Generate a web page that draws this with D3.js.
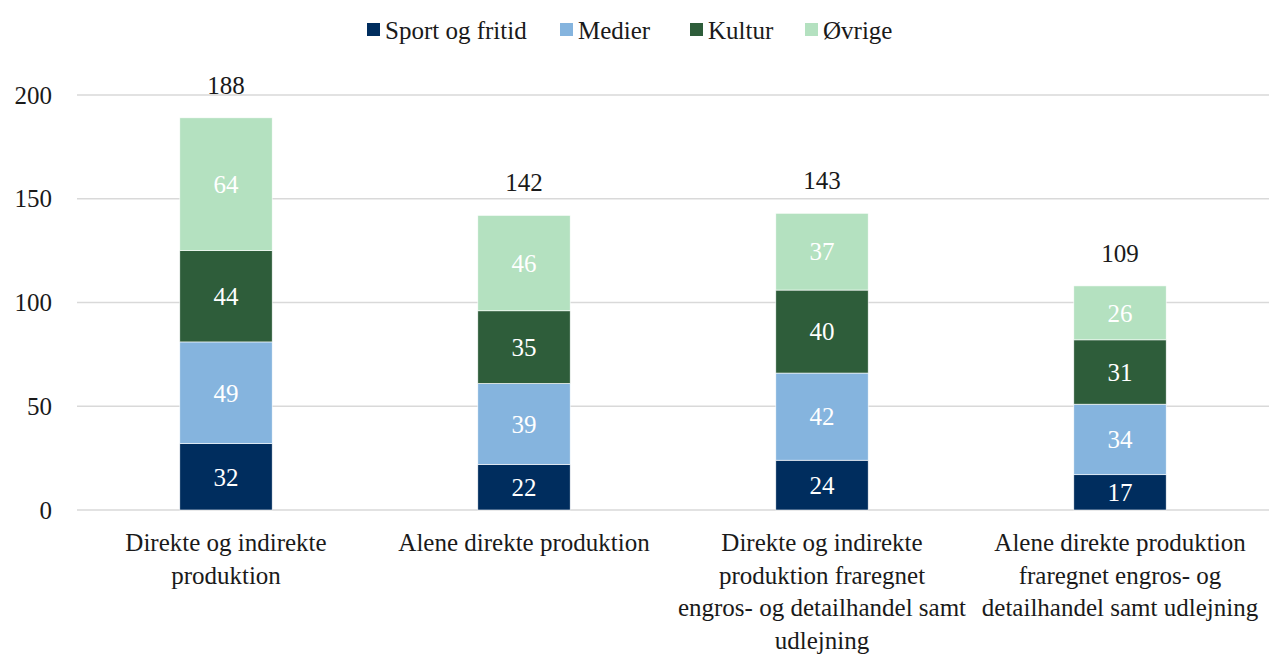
<!DOCTYPE html>
<html>
<head>
<meta charset="utf-8">
<script src="https://cdn.jsdelivr.net/npm/d3@7"></script>
<style>
  body { margin: 0; background: #ffffff; }
</style>
</head>
<body>
<script>
var WIDTH = 1269, HEIGHT = 655;
var FONT = "Liberation Serif";
var TEXT_COLOR = "#1a1a1a";

// categories (line breaks as in the picture)
var categories = [
  ["Direkte og indirekte", "produktion"],
  ["Alene direkte produktion"],
  ["Direkte og indirekte", "produktion fraregnet", "engros- og detailhandel samt", "udlejning"],
  ["Alene direkte produktion", "fraregnet engros- og", "detailhandel samt udlejning"]
];
var seriesNames = ["Sport og fritid", "Medier", "Kultur", "Øvrige"];
var seriesColors = ["#002d5e", "#85b4de", "#2e5d3a", "#b4e1c0"];

var sportValues = [32, 22, 24, 17];
var medierValues = [49, 39, 42, 34];
var kulturValues = [44, 35, 40, 31];
var ovrigeValues = [64, 46, 37, 26];
var totalLabels = [188, 142, 143, 109];

var yTicks = [0, 50, 100, 150, 200];

var margin = {top: 95, right: 0, bottom: 145, left: 77};

var svg = d3.select("body").append("svg")
            .attr("width", WIDTH)
            .attr("height", HEIGHT);

var chart = svg.append("g")
            .attr("transform", "translate(" + margin.left + "," + margin.top + ")");

var innerW = WIDTH - margin.left - margin.right;
var innerH = HEIGHT - margin.top - margin.bottom;

var x = d3.scaleBand()
          .domain(d3.range(categories.length))
          .range([0, innerW])
          .paddingInner(0.69)
          .paddingOuter(0.345);

var y = d3.scaleLinear()
          .domain([0, 200])
          .range([innerH, 0]);

// gridlines
chart.append("g")
     .selectAll("line")
     .data(yTicks)
     .enter().append("line")
     .attr("x1", 0)
     .attr("x2", innerW)
     .attr("y1", function(d) { return y(d); })
     .attr("y2", function(d) { return y(d); })
     .style("stroke", "#d9d9d9")
     .style("stroke-width", 1.5);

// y axis labels
var yAxis = chart.append("g")
     .call(d3.axisLeft(y).tickValues(yTicks).tickSize(0).tickPadding(25));
yAxis.select(".domain").remove();
yAxis.selectAll("text")
     .attr("font-family", FONT)
     .attr("font-size", 25)
     .attr("fill", TEXT_COLOR);

// stack
var rows = categories.map(function(c, i) {
  return {
    idx: i,
    "Sport og fritid": sportValues[i],
    "Medier": medierValues[i],
    "Kultur": kulturValues[i],
    "Øvrige": ovrigeValues[i]
  };
});
var stacked = d3.stack().keys(seriesNames)(rows);

var layers = chart.selectAll(".layer")
     .data(stacked)
     .enter().append("g")
     .attr("class", "layer")
     .style("fill", function(d, i) { return seriesColors[i]; });

layers.selectAll("rect")
     .data(function(d) { return d; })
     .enter().append("rect")
     .attr("x", function(d) { return x(d.data.idx); })
     .attr("width", x.bandwidth())
     .attr("y", function(d) { return y(d[1]); })
     .attr("height", function(d) { return y(d[0]) - y(d[1]); })
     .style("stroke", "#ffffff")
     .style("stroke-width", 0.6);

// segment labels
layers.selectAll("text")
     .data(function(d) { return d; })
     .enter().append("text")
     .attr("x", function(d) { return x(d.data.idx) + x.bandwidth() / 2; })
     .attr("y", function(d) { return (y(d[0]) + y(d[1])) / 2; })
     .attr("dy", "0.35em")
     .attr("text-anchor", "middle")
     .attr("font-family", FONT)
     .attr("font-size", 25)
     .style("fill", "#ffffff")
     .text(function(d) { return d[1] - d[0]; });

// totals
chart.append("g")
     .selectAll("text")
     .data(totalLabels)
     .enter().append("text")
     .attr("x", function(d, i) { return x(i) + x.bandwidth() / 2; })
     .attr("y", function(d, i) { return y(stacked[3][i][1]) - 24; })
     .attr("text-anchor", "middle")
     .attr("font-family", FONT)
     .attr("font-size", 25)
     .attr("fill", TEXT_COLOR)
     .text(function(d) { return d; });

// category labels
var catLabels = chart.append("g")
     .selectAll("text")
     .data(categories)
     .enter().append("text")
     .attr("x", function(d, i) { return x(i) + x.bandwidth() / 2; })
     .attr("y", innerH + 41)
     .attr("text-anchor", "middle")
     .attr("font-family", FONT)
     .attr("font-size", 25)
     .attr("fill", TEXT_COLOR);
catLabels.selectAll("tspan")
     .data(function(d) { return d; })
     .enter().append("tspan")
     .attr("x", function() { return d3.select(this.parentNode).attr("x"); })
     .attr("dy", function(d, i) { return i === 0 ? 0 : 32.5; })
     .text(function(d) { return d; });

// legend
var legendX = [367, 560, 690, 805];
var legend = svg.append("g")
     .selectAll("g")
     .data(seriesNames)
     .enter().append("g")
     .attr("transform", function(d, i) { return "translate(" + legendX[i] + ",30)"; });
legend.append("rect")
     .attr("x", 0)
     .attr("y", -7)
     .attr("width", 13)
     .attr("height", 13)
     .style("fill", function(d, i) { return seriesColors[i]; });
legend.append("text")
     .attr("x", 18)
     .attr("dy", "0.35em")
     .attr("font-family", FONT)
     .attr("font-size", 25)
     .attr("fill", TEXT_COLOR)
     .text(function(d) { return d; });
</script>
</body>
</html>
